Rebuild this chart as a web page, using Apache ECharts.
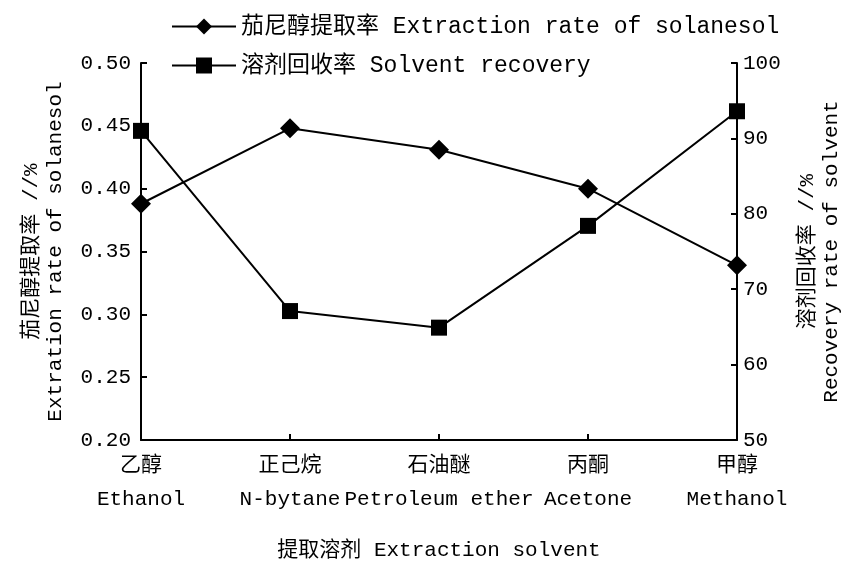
<!DOCTYPE html>
<html><head><meta charset="utf-8">
<script src="https://cdn.jsdelivr.net/npm/echarts@6/dist/echarts.min.js"></script>
<style>html,body{margin:0;padding:0;background:#fff;overflow:hidden}#c{width:843px;height:563px}</style>
</head><body><div id="c"></div>
<script>
const categories = ['乙醇\nEthanol', '正己烷\nN-bytane', '石油醚\nPetroleum ether', '丙酮\nAcetone', '甲醇\nMethanol'];
const extractionRate = [0.388, 0.448, 0.431, 0.400, 0.339];
const solventRecovery = [91.0, 67.1, 64.9, 78.4, 93.6];
const seriesNames = ['茄尼醇提取率 Extraction rate of solanesol', '溶剂回收率 Solvent recovery'];

const FONT = '"Liberation Mono", "Noto Sans CJK SC", monospace';
const chart = echarts.init(document.getElementById('c'));
const axisCommon = {
  axisLine: {show: true, lineStyle: {color: '#000', width: 2}},
  axisTick: {show: true, inside: true, length: 6, lineStyle: {color: '#000', width: 2}},
  splitLine: {show: false},
  axisLabel: {color: '#000', fontFamily: FONT, fontSize: 21},
  nameTextStyle: {color: '#000', fontFamily: FONT, fontSize: 21, lineHeight: 24}
};
chart.setOption({
  animation: false,
  backgroundColor: '#fff',
  grid: {left: 141, right: 106, top: 63, bottom: 123, containLabel: false, outerBoundsMode: 'none'},
  legend: {
    orient: 'vertical', left: 166, top: 10, itemWidth: 64, itemHeight: 20, itemGap: 16,
    textStyle: {color: '#000', fontFamily: FONT, fontSize: 23},
    data: seriesNames
  },
  xAxis: Object.assign({}, axisCommon, {
    type: 'category', boundaryGap: false, data: categories,
    name: '提取溶剂 Extraction solvent', nameLocation: 'middle', nameGap: 98,
    axisLabel: {color: '#000', fontFamily: FONT, fontSize: 21, lineHeight: 34, margin: 8, interval: 0}
  }),
  yAxis: [
    Object.assign({}, axisCommon, {
      type: 'value', min: 0.2, max: 0.5, interval: 0.05,
      axisLabel: {color: '#000', fontFamily: FONT, fontSize: 21, margin: 10, formatter: v => v.toFixed(2)},
      name: '茄尼醇提取率 //%\nExtration rate of solanesol', nameLocation: 'middle', nameRotate: 90, nameGap: 74
    }),
    Object.assign({}, axisCommon, {
      type: 'value', min: 50, max: 100, interval: 10, position: 'right',
      axisLabel: {color: '#000', fontFamily: FONT, fontSize: 21, margin: 6},
      name: '溶剂回收率 //%\nRecovery rate of solvent', nameLocation: 'middle', nameRotate: 90, nameGap: 58
    })
  ],
  series: [
    {name: seriesNames[0], type: 'line', yAxisIndex: 0, data: extractionRate,
     symbol: 'diamond', symbolSize: 20, itemStyle: {color: '#000'}, lineStyle: {color: '#000', width: 2}},
    {name: seriesNames[1], type: 'line', yAxisIndex: 1, data: solventRecovery,
     symbol: 'rect', symbolSize: 16, itemStyle: {color: '#000'}, lineStyle: {color: '#000', width: 2}}
  ]
});
</script></body></html>
